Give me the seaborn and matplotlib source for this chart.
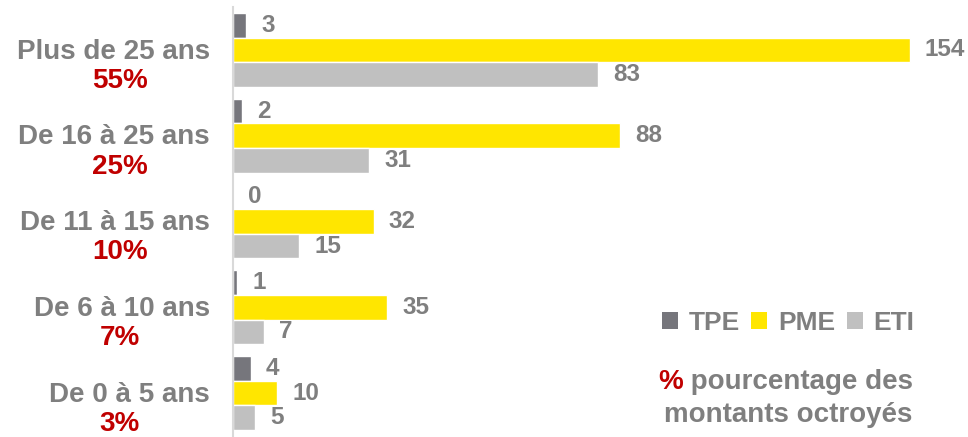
import pandas as pd
import seaborn as sns
import matplotlib.pyplot as plt
from matplotlib.patches import Patch

# data
tranches = ['Plus de 25 ans', 'De 16 à 25 ans', 'De 11 à 15 ans', 'De 6 à 10 ans', 'De 0 à 5 ans']
pourcentages = ['55%', '25%', '10%', '7%', '3%']
tailles = ['TPE', 'PME', 'ETI']
tpe = [3, 2, 0, 1, 4]
pme = [154, 88, 32, 35, 10]
eti = [83, 31, 15, 7, 5]

couleurs = {'TPE': '#76767c', 'PME': '#ffe600', 'ETI': '#c0c0c0'}
gris = '#7f7f7f'
rouge = '#c00000'

df = pd.DataFrame({
    'tranche': tranches * 3,
    'taille': ['TPE'] * 5 + ['PME'] * 5 + ['ETI'] * 5,
    'montant': tpe + pme + eti,
})

sns.set_style('white')
plt.rcParams['font.family'] = ['Liberation Sans', 'DejaVu Sans']
plt.rcParams['font.weight'] = 'bold'

fig = plt.figure(figsize=(9.68, 4.37), dpi=100)
ax = fig.add_axes([233 / 968, 1 / 437, 703 / 968, 429 / 437])

sns.barplot(
    data=df, y='tranche', x='montant', hue='taille', order=tranches,
    hue_order=tailles, palette=couleurs, orient='h', width=0.86,
    saturation=1, errorbar=None, legend=False, ax=ax,
)

for cont in ax.containers:
    ax.bar_label(cont, fmt='%d', padding=11, fontsize=17.5,
                 fontweight='bold', color=gris)

ax.set_xlim(0, 160)
ax.set_ylim(4.5, -0.5)
ax.set_xlabel('')
ax.set_ylabel('')
ax.set_xticks([])
ax.set_yticks([])
for side in ['top', 'right', 'bottom']:
    ax.spines[side].set_visible(False)
ax.spines['left'].set_color('#d9d9d9')
ax.spines['left'].set_linewidth(1.5)

# two-line category labels: name in gray, share in red
trans = ax.get_yaxis_transform()
for i, (nom, pct) in enumerate(zip(tranches, pourcentages)):
    ax.text(-0.033, i + 0.02, nom, transform=trans, ha='right', va='center',
            fontsize=20, fontweight='bold', color=gris, clip_on=False)
    ax.text(-0.161, i + 0.36, pct, transform=trans, ha='center', va='center',
            fontsize=20, fontweight='bold', color=rouge, clip_on=False)

handles = [Patch(facecolor=couleurs[t], edgecolor='none', label=t) for t in tailles]
leg = fig.legend(
    handles=handles, loc='center', bbox_to_anchor=(788 / 968, 1 - 323 / 437),
    ncol=3, frameon=False, prop={'size': 19, 'weight': 'bold'},
    handlelength=0.6, handleheight=0.6, handletextpad=0.4, columnspacing=0.45,
)
for txt in leg.get_texts():
    txt.set_color(gris)

# note: red % sign followed by gray text
t1 = fig.text(658 / 968, 1 - 382 / 437, '%', ha='left', va='center',
              fontsize=20, fontweight='bold', color=rouge)
ax.annotate(' pourcentage des', xy=(1, 0.5), xycoords=t1, ha='left', va='center',
            fontsize=20, fontweight='bold', color=gris, annotation_clip=False)
fig.text(788 / 968, 1 - 415 / 437, 'montants octroyés', ha='center', va='center',
         fontsize=20, fontweight='bold', color=gris)

fig.savefig('out.png', dpi=100)
plt.close()
